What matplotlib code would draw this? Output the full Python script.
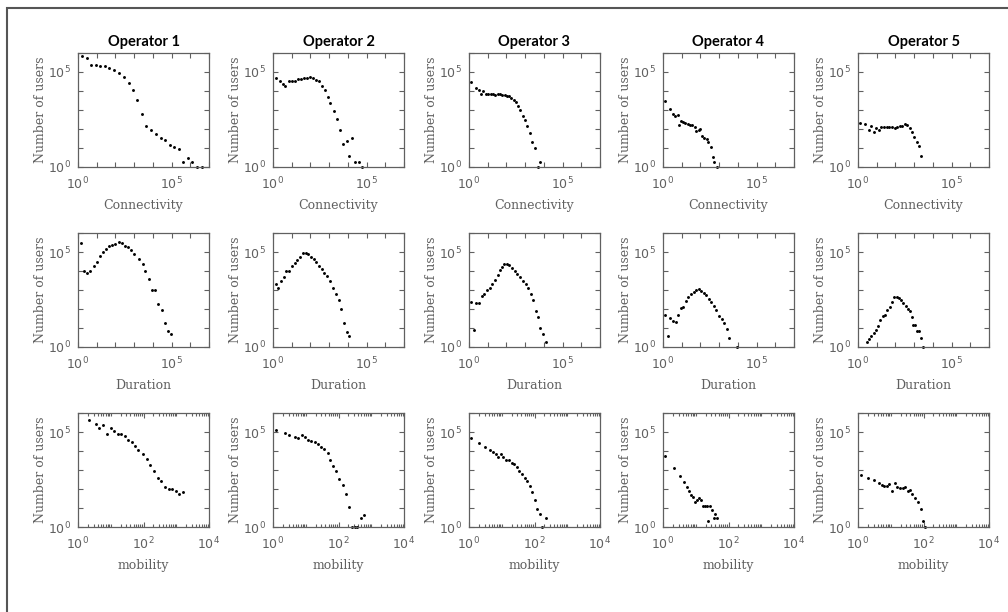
import numpy as np
import matplotlib
matplotlib.use("Agg")
import matplotlib.pyplot as plt
from matplotlib.patches import Rectangle
from matplotlib.ticker import FixedLocator, NullLocator, FuncFormatter

# === Data (log10 of values) ===
operators = ["Operator 1", "Operator 2", "Operator 3", "Operator 4", "Operator 5"]
row_labels = ["Connectivity", "Duration", "mobility"]

# --- Connectivity ---
conn_lx = [
    [0.21, 0.48, 0.71, 0.98, 1.20, 1.43, 1.68, 1.95, 2.20, 2.45, 2.70, 2.93, 3.16, 3.41,
     3.66, 3.91, 4.16, 4.41, 4.66, 4.89, 5.14, 5.39, 5.63, 5.88, 6.11, 6.38, 6.61],
    [0.18, 0.36, 0.54, 0.66, 0.86, 1.04, 1.18, 1.34, 1.50, 1.68, 1.84, 2.00, 2.14, 2.32,
     2.48, 2.61, 2.79, 2.95, 3.07, 3.25, 3.43, 3.57, 3.75, 3.93, 4.07, 4.23, 4.39, 4.57, 4.73],
    [0.13, 0.38, 0.52, 0.64, 0.77, 0.89, 1.04, 1.16, 1.29, 1.41, 1.54, 1.66, 1.79, 1.91,
     2.04, 2.16, 2.27, 2.39, 2.52, 2.63, 2.75, 2.86, 3.00, 3.11, 3.25, 3.38, 3.50, 3.68, 3.79],
    [0.09, 0.39, 0.52, 0.66, 0.78, 0.87, 0.98, 1.07, 1.19, 1.31, 1.46, 1.56, 1.69, 1.79,
     1.90, 1.99, 2.10, 2.20, 2.33, 2.43, 2.56, 2.65, 2.75, 2.88],
    [0.09, 0.36, 0.57, 0.71, 0.83, 0.98, 1.10, 1.24, 1.39, 1.53, 1.67, 1.83, 1.97, 2.11,
     2.24, 2.36, 2.50, 2.63, 2.77, 2.88, 3.00, 3.13, 3.27, 3.37],
]
conn_ly = [
    [5.84, 5.75, 5.39, 5.39, 5.33, 5.30, 5.21, 5.09, 4.96, 4.74, 4.44, 4.04, 3.51, 2.81,
     2.18, 1.93, 1.72, 1.54, 1.44, 1.16, 1.04, 0.93, 0.28, 0.46, 0.28, 0.00, 0.00],
    [4.68, 4.51, 4.39, 4.28, 4.51, 4.54, 4.54, 4.61, 4.65, 4.67, 4.68, 4.72, 4.68, 4.60,
     4.51, 4.28, 4.04, 3.70, 3.37, 2.96, 2.51, 1.96, 1.23, 1.35, 0.60, 1.51, 0.28, 0.28, 0.00],
    [4.46, 4.14, 4.04, 3.84, 4.00, 3.84, 3.86, 3.82, 3.82, 3.81, 3.84, 3.82, 3.81, 3.79,
     3.75, 3.72, 3.65, 3.54, 3.40, 3.23, 3.02, 2.70, 2.46, 2.16, 1.81, 1.33, 0.98, 0.00, 0.28],
    [3.47, 3.04, 2.77, 2.67, 2.74, 2.21, 2.42, 2.37, 2.32, 2.28, 2.21, 2.19, 2.11, 1.91,
     1.96, 2.00, 1.61, 1.54, 1.46, 1.33, 1.05, 0.53, 0.28, 0.00],
    [2.32, 2.25, 1.93, 2.14, 1.82, 2.07, 1.93, 2.11, 2.09, 2.09, 2.09, 2.11, 2.04, 2.12,
     2.16, 2.16, 2.25, 2.21, 2.07, 1.82, 1.58, 1.33, 1.12, 0.60],
]

# --- Duration ---
dur_lx = [
    [0.14, 0.32, 0.48, 0.66, 0.86, 1.02, 1.18, 1.36, 1.52, 1.68, 1.84, 2.00, 2.18, 2.34,
     2.50, 2.66, 2.82, 2.98, 3.25, 3.45, 3.59, 3.77, 3.96, 4.13, 4.29, 4.48, 4.64, 4.82, 4.98],
    [0.14, 0.29, 0.43, 0.57, 0.71, 0.86, 1.02, 1.16, 1.30, 1.45, 1.59, 1.75, 1.89, 2.04,
     2.18, 2.32, 2.46, 2.61, 2.75, 2.89, 3.07, 3.21, 3.36, 3.50, 3.64, 3.79, 3.93, 4.07],
    [0.13, 0.27, 0.39, 0.54, 0.68, 0.82, 0.96, 1.11, 1.25, 1.39, 1.54, 1.66, 1.77, 1.89,
     2.02, 2.16, 2.30, 2.45, 2.59, 2.73, 2.88, 3.02, 3.16, 3.29, 3.43, 3.57, 3.70, 3.82,
     3.95, 4.11],
    [0.09, 0.25, 0.39, 0.53, 0.67, 0.80, 0.94, 1.07, 1.21, 1.35, 1.49, 1.63, 1.78, 1.92,
     2.04, 2.18, 2.31, 2.45, 2.59, 2.72, 2.84, 2.98, 3.13, 3.27, 3.41, 3.53, 3.96],
    [0.50, 0.60, 0.71, 0.83, 0.96, 1.08, 1.19, 1.31, 1.44, 1.56, 1.69, 1.81, 1.94, 2.06,
     2.17, 2.29, 2.42, 2.54, 2.65, 2.77, 2.88, 2.95, 3.06, 3.16, 3.27, 3.37, 3.48],
]
dur_ly = [
    [5.49, 3.98, 3.91, 3.98, 4.26, 4.49, 4.81, 5.01, 5.15, 5.29, 5.36, 5.44, 5.51, 5.45,
     5.31, 5.24, 5.10, 4.90, 4.62, 4.35, 3.98, 3.59, 2.98, 2.98, 2.27, 1.95, 1.28, 0.82, 0.67],
    [3.34, 3.11, 3.48, 3.66, 3.98, 3.98, 4.26, 4.42, 4.58, 4.76, 4.94, 4.97, 4.90, 4.76,
     4.62, 4.46, 4.26, 4.12, 3.91, 3.73, 3.45, 3.13, 2.77, 2.45, 2.02, 1.28, 0.78, 0.60],
    [2.36, 0.89, 2.33, 2.31, 2.68, 2.81, 2.98, 3.13, 3.30, 3.55, 3.78, 4.03, 4.23, 4.39,
     4.39, 4.30, 4.14, 3.98, 3.84, 3.66, 3.50, 3.30, 3.09, 2.77, 2.45, 1.88, 1.56, 0.98,
     0.71, 0.28],
    [1.71, 0.60, 1.53, 1.39, 1.31, 1.71, 2.06, 2.10, 2.42, 2.63, 2.77, 2.90, 2.98, 3.04,
     2.95, 2.84, 2.75, 2.54, 2.36, 2.17, 1.95, 1.65, 1.46, 1.24, 0.94, 0.50, 0.00],
    [0.28, 0.44, 0.57, 0.75, 0.92, 1.12, 1.44, 1.63, 1.71, 1.95, 2.13, 2.38, 2.63, 2.63,
     2.58, 2.45, 2.34, 2.17, 1.99, 1.88, 1.60, 1.17, 1.17, 0.82, 0.82, 0.50, 0.00],
]

# --- mobility ---
mob_lx = [
    [0.33, 0.55, 0.65, 0.77, 0.89, 1.00, 1.10, 1.21, 1.31, 1.42, 1.53, 1.64, 1.74, 1.84,
     1.97, 2.10, 2.21, 2.32, 2.43, 2.54, 2.66, 2.77, 2.87, 2.98, 3.08, 3.21],
    [0.10, 0.38, 0.49, 0.67, 0.77, 0.88, 0.97, 1.07, 1.17, 1.27, 1.36, 1.46, 1.57, 1.67,
     1.75, 1.83, 1.92, 2.03, 2.13, 2.22, 2.32, 2.42, 2.50, 2.58, 2.68, 2.79],
    [0.07, 0.32, 0.48, 0.64, 0.72, 0.81, 0.89, 0.97, 1.05, 1.13, 1.21, 1.30, 1.38, 1.46,
     1.54, 1.62, 1.70, 1.78, 1.86, 1.93, 2.01, 2.08, 2.16, 2.24, 2.34],
    [0.05, 0.35, 0.51, 0.63, 0.73, 0.80, 0.86, 0.92, 0.97, 1.04, 1.10, 1.15, 1.21, 1.27,
     1.33, 1.38, 1.44, 1.50, 1.55, 1.60, 1.66],
    [0.08, 0.32, 0.48, 0.64, 0.72, 0.80, 0.88, 0.96, 1.05, 1.12, 1.20, 1.28, 1.36, 1.44,
     1.52, 1.58, 1.66, 1.75, 1.82, 1.91, 1.99, 2.06],
]
mob_ly = [
    [5.61, 5.40, 5.23, 5.35, 4.91, 5.23, 5.04, 4.88, 4.89, 4.79, 4.60, 4.46, 4.28, 4.05,
     3.86, 3.56, 3.26, 2.95, 2.58, 2.40, 2.12, 2.02, 2.00, 1.89, 1.74, 1.86],
    [5.09, 4.96, 4.86, 4.75, 4.68, 4.86, 4.72, 4.60, 4.53, 4.47, 4.35, 4.23, 4.12, 3.91,
     3.51, 3.21, 2.93, 2.54, 2.19, 1.74, 1.05, 0.00, 0.00, 0.00, 0.49, 0.61],
    [4.70, 4.44, 4.23, 4.07, 3.93, 3.82, 3.70, 3.86, 3.70, 3.51, 3.51, 3.37, 3.30, 3.16,
     2.96, 2.79, 2.60, 2.40, 2.16, 1.86, 1.44, 0.96, 0.70, 0.00, 0.47],
    [3.74, 3.11, 2.68, 2.37, 2.11, 1.89, 1.67, 1.58, 1.33, 1.40, 1.54, 1.40, 1.12, 1.09,
     1.09, 0.32, 1.09, 0.88, 0.49, 0.70, 0.49],
    [2.75, 2.60, 2.46, 2.32, 2.23, 2.16, 2.14, 2.25, 1.89, 2.32, 2.11, 2.07, 2.07, 2.09,
     1.89, 1.96, 1.72, 1.54, 1.33, 0.93, 0.30, 0.00],
]

row_lx = [conn_lx, dur_lx, mob_lx]
row_ly = [conn_ly, dur_ly, mob_ly]
row_xmax = [7, 7, 4]
row_xlabel_exp = [[0, 5], [0, 5], [0, 2, 4]]

# === Style ===
W, H = 1008, 612
COL_LEFT = [78, 273, 469, 663, 858]
ROW_TOP = [53, 233, 413]
AX_W, AX_H = 131, 114
GRAY = "#606060"
LABEL_FONT = "DejaVu Serif"

plt.rcParams["mathtext.fontset"] = "custom"
plt.rcParams["mathtext.rm"] = LABEL_FONT


def pow_fmt(val):
    return r"$\mathregular{10^{%d}}$" % int(round(np.log10(val)))


def main():
    fig = plt.figure(figsize=(W / 100, H / 100), dpi=100)
    fig.patch.set_facecolor("white")
    # outer frame (right and bottom edges fall off the image)
    fig.add_artist(Rectangle((7 / W, -0.1), 1.2, 1 - 8 / H + 0.1, transform=fig.transFigure,
                             fill=False, edgecolor="#555555", linewidth=1.5))

    for r in range(3):
        for c in range(5):
            ax = fig.add_axes([COL_LEFT[c] / W, 1 - (ROW_TOP[r] + AX_H) / H, AX_W / W, AX_H / H])
            x = 10 ** np.array(row_lx[r][c])
            y = 10 ** np.array(row_ly[r][c])
            ax.plot(x, y, "o", color="black", markersize=2.1, markeredgewidth=0, clip_on=False)
            ax.set_xscale("log")
            ax.set_yscale("log")
            ax.set_xlim(1, 10 ** row_xmax[r])
            ax.set_ylim(1, 1e6)

            ax.yaxis.set_major_locator(FixedLocator([10.0 ** k for k in range(7)]))
            ax.yaxis.set_minor_locator(NullLocator())
            ax.yaxis.set_major_formatter(
                FuncFormatter(lambda v, p: pow_fmt(v) if round(np.log10(v)) in (0, 5) else ""))

            if r < 2:
                ax.xaxis.set_major_locator(FixedLocator([10.0 ** k for k in range(row_xmax[r] + 1)]))
                ax.xaxis.set_minor_locator(NullLocator())
            else:
                ax.xaxis.set_major_locator(FixedLocator([10.0 ** k for k in row_xlabel_exp[r]]))
                minors = [m * 10.0 ** k for k in range(4) for m in range(2, 11)
                          if m * 10.0 ** k < 1e4]
                ax.xaxis.set_minor_locator(FixedLocator(minors))
            labs = row_xlabel_exp[r]
            ax.xaxis.set_major_formatter(
                FuncFormatter(lambda v, p, labs=labs: pow_fmt(v) if round(np.log10(v)) in labs else ""))
            ax.xaxis.set_minor_formatter(FuncFormatter(lambda v, p: ""))

            ax.tick_params(which="both", direction="in", top=True, right=True,
                           color=GRAY, labelcolor=GRAY, labelsize=9, width=0.8)
            ax.tick_params(which="major", length=3.5)
            ax.tick_params(axis="x", which="major", pad=6)
            ax.tick_params(axis="y", which="major", pad=5)
            ax.tick_params(which="minor", length=2)
            for s in ax.spines.values():
                s.set_color(GRAY)
                s.set_linewidth(0.9)

            ax.set_xlabel(row_labels[r], fontsize=9, color=GRAY, family=LABEL_FONT, labelpad=5)
            ax.set_ylabel("Number of users", fontsize=9, color=GRAY, family=LABEL_FONT, labelpad=1)
            if r == 0:
                ax.set_title(operators[c], fontsize=10.5, fontweight="bold", family="Lato", pad=5)

    fig.savefig("out.png", dpi=100, facecolor="white")


if __name__ == "__main__":
    main()
